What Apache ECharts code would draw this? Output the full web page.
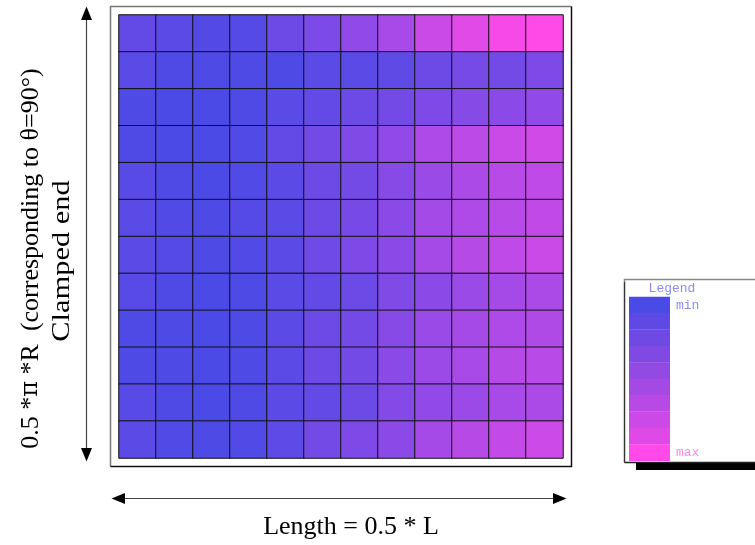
<!DOCTYPE html>
<html>
<head>
<meta charset="utf-8">
<script src="https://cdn.jsdelivr.net/npm/echarts@6/dist/echarts.min.js"></script>
<style>
html,body{margin:0;padding:0;background:#fff;}
#chart{width:755px;height:545px;}
</style>
</head>
<body>
<div id="chart"></div>
<script>
// Columns along length (0.5*L), rows along arc (0.5*pi*R), top row first
var columns = ['1','2','3','4','5','6','7','8','9','10','11','12'];
var rows = ['1','2','3','4','5','6','7','8','9','10','11','12'];

// Relative magnitude per cell (0 = min, 100 = max), one array per row, top to bottom
var row1  = [14, 9, 5, 6, 18, 27, 38, 52, 70, 84, 95, 100];
var row2  = [9, 3, 2, 2, 2, 9, 9, 12, 19, 24, 23, 28];
var row3  = [2, 1, 1, 3, 9, 14, 19, 23, 29, 33, 36, 39];
var row4  = [3, 1, 1, 4, 14, 23, 30, 39, 55, 63, 70, 74];
var row5  = [8, 3, 1, 4, 10, 18, 23, 34, 44, 54, 61, 65];
var row6  = [9, 4, 2, 6, 9, 18, 25, 36, 49, 55, 61, 66];
var row7  = [9, 6, 2, 4, 10, 21, 28, 36, 50, 59, 65, 70];
var row8  = [8, 3, 1, 2, 9, 14, 19, 30, 36, 44, 50, 54];
var row9  = [3, 2, 1, 2, 10, 18, 23, 34, 44, 51, 55, 56];
var row10 = [2, 2, 1, 2, 10, 18, 23, 35, 45, 52, 59, 61];
var row11 = [8, 3, 1, 3, 10, 14, 19, 32, 39, 45, 52, 54];
var row12 = [10, 4, 2, 4, 11, 23, 28, 36, 51, 60, 67, 72];

var legendColors = ['#4a4ae6','#5e49e4','#6f49e4','#8149e4','#9349e4','#a549e4','#b849e5','#cb49e6','#df49e7','#ff49e8'];
var legendTitle = 'Legend';
var legendMin = 'min';
var legendMax = 'max';
var xLabel = 'Length = 0.5 * L';
var yLabel1 = '0.5 *{pi|\u03c0} *R  (corresponding to \u03b8=90\u00b0)';
var yLabel2 = 'Clamped end';

var allRows = [row1,row2,row3,row4,row5,row6,row7,row8,row9,row10,row11,row12];
var data = [];
allRows.forEach(function(r, yi){
  r.forEach(function(v, xi){ data.push([xi, yi, v]); });
});

var chart = echarts.init(document.getElementById('chart'), null, {renderer:'canvas'});
var serif = '"Liberation Serif", "Times New Roman", serif';
var mono = '"Liberation Mono", "DejaVu Sans Mono", monospace';

var graphics = [];
// outer frame around plot
graphics.push({type:'polyline', silent:true, z:1, shape:{points:[[110.5,466.5],[110.5,6.5],[571.5,6.5]]}, style:{stroke:'#777', lineWidth:1.5, fill:null}});
graphics.push({type:'polyline', silent:true, z:1, shape:{points:[[110.5,466.5],[571.5,466.5],[571.5,6.5]]}, style:{stroke:'#111', lineWidth:1.5, fill:null}});

// vertical arrow
graphics.push({type:'line', silent:true, shape:{x1:86.5,y1:18,x2:86.5,y2:450}, style:{stroke:'#444', lineWidth:1.2}});
graphics.push({type:'polygon', silent:true, shape:{points:[[86.5,6.5],[81,20],[92,20]]}, style:{fill:'#000'}});
graphics.push({type:'polygon', silent:true, shape:{points:[[86.5,461.5],[81,448],[92,448]]}, style:{fill:'#000'}});
// horizontal arrow
graphics.push({type:'line', silent:true, shape:{x1:122,y1:498.5,x2:556,y2:498.5}, style:{stroke:'#444', lineWidth:1.2}});
graphics.push({type:'polygon', silent:true, shape:{points:[[111.5,498.5],[125,493],[125,504]]}, style:{fill:'#000'}});
graphics.push({type:'polygon', silent:true, shape:{points:[[566.5,498.5],[553,493],[553,504]]}, style:{fill:'#000'}});

// axis texts
graphics.push({type:'text', silent:true, x:351, y:527, style:{text:xLabel, font:'26px ' + serif, fill:'#000', textAlign:'center', textVerticalAlign:'middle'}});
graphics.push({type:'text', silent:true, x:31, y:258.5, rotation:Math.PI/2, style:{text:yLabel1, fontSize:26, fontFamily:serif, fill:'#000', textAlign:'center', textVerticalAlign:'middle',
  rich:{pi:{fontSize:24, fontFamily:'"DejaVu Serif", serif', fill:'#000'}}}});
graphics.push({type:'text', silent:true, x:62, y:261, rotation:Math.PI/2, scaleX:1.17, style:{text:yLabel2, font:'26px ' + serif, fill:'#000', textAlign:'center', textVerticalAlign:'middle'}});

// legend box with shadow
graphics.push({type:'rect', silent:true, z:1, shape:{x:636, y:286, width:140, height:184}, style:{fill:'#000'}});
graphics.push({type:'rect', silent:true, z:2, shape:{x:624.5, y:279.5, width:140, height:183}, style:{fill:'#fff', stroke:null}});
graphics.push({type:'polyline', silent:true, z:3, shape:{points:[[624.5,462.5],[624.5,279.5],[760,279.5]]}, style:{stroke:'#888', lineWidth:1.5, fill:null}});
graphics.push({type:'polyline', silent:true, z:3, shape:{points:[[624.5,462.5],[760,462.5]]}, style:{stroke:'#222', lineWidth:1.5, fill:null}});
graphics.push({type:'line', silent:true, z:3, shape:{x1:624.5,y1:282,x2:624.5,y2:462.5}, style:{stroke:'#333', lineWidth:1.2}});
var bandH = 164 / legendColors.length;
legendColors.forEach(function(c, i){
  graphics.push({type:'rect', silent:true, z:4, shape:{x:629, y:296.7 + i*bandH, width:41, height:bandH+0.3}, style:{fill:c}});
});
graphics.push({type:'text', silent:true, z:4, x:672, y:289, style:{text:legendTitle, font:'13px ' + mono, fill:'#8c8cf0', textAlign:'center', textVerticalAlign:'middle'}});
graphics.push({type:'text', silent:true, z:4, x:676, y:306, style:{text:legendMin, font:'13px ' + mono, fill:'#8c8cf0', textAlign:'left', textVerticalAlign:'middle'}});
graphics.push({type:'text', silent:true, z:4, x:676, y:453, style:{text:legendMax, font:'13px ' + mono, fill:'#ff88f0', textAlign:'left', textVerticalAlign:'middle'}});

chart.setOption({
  animation:false,
  backgroundColor:'#fff',
  grid:{left:119, top:15, width:444, height:443, containLabel:false},
  xAxis:{type:'category', data:columns, show:false, splitArea:{show:false}},
  yAxis:{type:'category', data:rows, inverse:true, show:false, splitArea:{show:false}},
  visualMap:{type:'continuous', show:false, min:0, max:100, dimension:2, inRange:{color:['#4a4ae6','#ff4ae8']}},
  series:[{
    type:'heatmap',
    data:data,
    itemStyle:{borderColor:'#111', borderWidth:1},
    emphasis:{disabled:true},
    label:{show:false}
  }],
  graphic:graphics
});
</script>
</body>
</html>
